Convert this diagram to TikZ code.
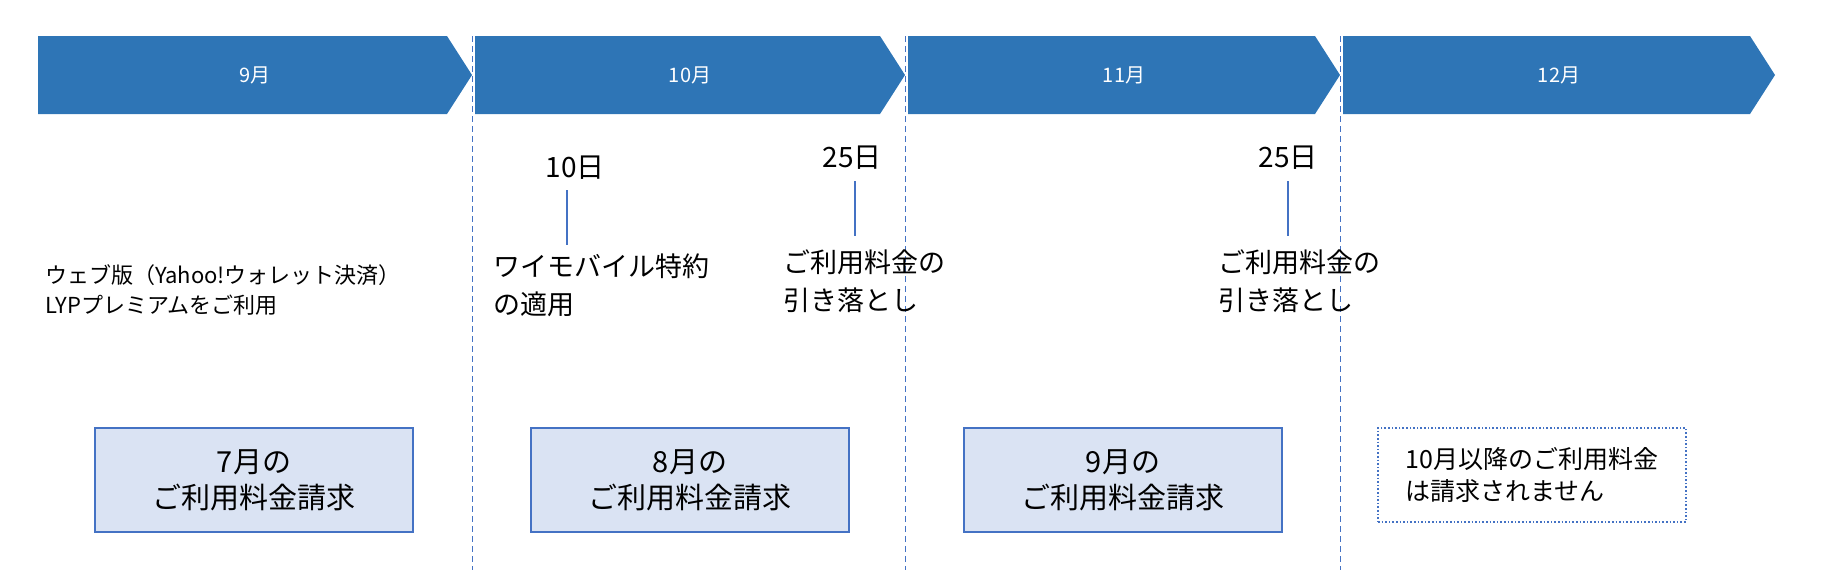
\documentclass[tikz,border=0pt]{standalone}
\usepackage{fontspec}
\setmainfont{Noto Sans CJK JP}
\usetikzlibrary{positioning}
\definecolor{bannerblue}{HTML}{2E75B6}
\definecolor{lineblue}{HTML}{4472C4}
\definecolor{boxfill}{HTML}{DAE3F3}
\tikzset{
  month/.style={text=white, font=\fontsize{10}{12}\selectfont},
  note/.style={anchor=west, align=left, inner sep=0pt},
  bill/.style={draw=lineblue, fill=boxfill, thick, minimum width=159pt, minimum height=52pt, align=center, font=\fontsize{14.5}{18}\selectfont},
  tick/.style={lineblue, line width=1.2pt}
}
\begin{document}
\begin{tikzpicture}[x=0.5pt, y=-0.5pt]
  \useasboundingbox (0,0) rectangle (1825,578);
  % month banners
  \foreach \s/\t/\m [count=\i] in {38/472/9, 475/905/10, 908/1340/11, 1343/1775/12}{
    \fill[bannerblue] (\s,36) -- (\t-25,36) -- (\t,75) -- (\t-25,114) -- (\s,114) -- cycle;
    \node[month] (m\i) at ({(\s+\t)/2},75) {\m 月};
  }
  % month borders
  \foreach \x [count=\i] in {472,905,1340}{
    \coordinate (top\i) at (\x,36);
    \coordinate (bot\i) at (\x,570);
    \draw[lineblue, dashed, dash pattern=on 3pt off 2pt] (top\i) -- (bot\i);
  }
  % dates
  \node[font=\fontsize{14}{16}\selectfont] (d1) at (575,168) {10日};
  \coordinate (d1b) at (567,245);
  \draw[tick] (567,190) -- (d1b);
  \node[font=\fontsize{14}{16}\selectfont] (d2) at (852,158) {25日};
  \coordinate (d2b) at (855,236);
  \draw[tick] (855,181) -- (d2b);
  \node[font=\fontsize{14}{16}\selectfont] (d3) at (1288,158) {25日};
  \coordinate (d3b) at (1288,236);
  \draw[tick] (1288,181) -- (d3b);
  % notes
  \node[note, font=\fontsize{11}{15}\selectfont] (use) at (45,290) {ウェブ版（Yahoo!ウォレット決済）\\LYPプレミアムをご利用};
  \node[note, font=\fontsize{13.5}{19}\selectfont] (ym) at (493,285) {ワイモバイル特約\\の適用};
  \node[note, font=\fontsize{13.5}{19}\selectfont] (pay1) at (783,281) {ご利用料金の\\引き落とし};
  \node[note, font=\fontsize{13.5}{19}\selectfont] (pay2) at (1218,281) {ご利用料金の\\引き落とし};
  % bills
  \node[bill] (b7) at (254,480) {7月の\\ご利用料金請求};
  \node[bill] (b8) at (690,480) {8月の\\ご利用料金請求};
  \node[bill] (b9) at (1123,480) {9月の\\ご利用料金請求};
  \node[bill, fill=white, densely dotted, minimum width=154pt, minimum height=47pt, align=left, font=\fontsize{12.5}{16}\selectfont] (b10) at (1532,475) {10月以降のご利用料金\\は請求されません};
\end{tikzpicture}
\end{document}
